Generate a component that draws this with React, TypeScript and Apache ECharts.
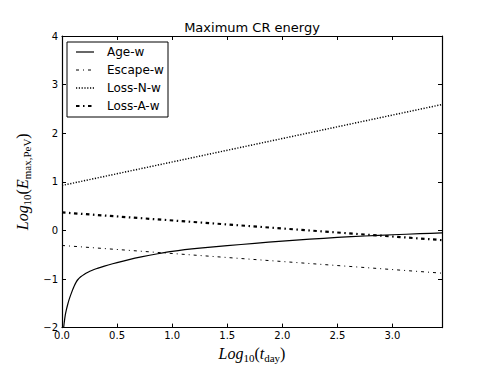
import React, { useEffect, useRef } from "react";
import * as echarts from "echarts";

const ageX = [0.015, 0.02, 0.03, 0.04, 0.05, 0.065, 0.085, 0.11, 0.13, 0.145, 0.17, 0.2, 0.24, 0.27, 0.31, 0.35, 0.42, 0.5, 0.6, 0.72, 0.87, 1.0, 1.25, 1.5, 1.75, 2.0, 2.25, 2.5, 2.75, 3.0, 3.25, 3.45];
const ageY = [-2.0, -1.9, -1.74, -1.63, -1.54, -1.42, -1.29, -1.15, -1.06, -1.01, -0.955, -0.905, -0.855, -0.825, -0.79, -0.76, -0.712, -0.662, -0.605, -0.545, -0.48, -0.43, -0.365, -0.315, -0.265, -0.22, -0.18, -0.145, -0.115, -0.09, -0.068, -0.05];
const escapeX = [0, 3.45];
const escapeY = [-0.31, -0.88];
const lossNX = [0, 3.45];
const lossNY = [0.925, 2.59];
const lossAX = [0, 3.45];
const lossAY = [0.37, -0.2];
const seriesNames = ["Age-w", "Escape-w", "Loss-N-w", "Loss-A-w"];
const titleText = "Maximum CR energy";

const pairs = (xs: number[], ys: number[]) => xs.map((x, i) => [x, ys[i]]);

const sans = "DejaVu Sans";
const serif = "Liberation Serif";

const lineStyles: { width: number; dash: number[] | null }[] = [
  { width: 1.2, dash: null },
  { width: 1, dash: [3, 4, 1, 4] },
  { width: 1.5, dash: [1.2, 1.6] },
  { width: 2.2, dash: [3.5, 3.5, 1.5, 3.5] },
];

export default function App() {
  const ref = useRef<HTMLDivElement>(null);
  useEffect(() => {
    const chart = echarts.init(ref.current!, null, { renderer: "svg" });
    const tickFmt = (v: number) => v.toFixed(1);
    const yFmt = (v: number) => (v < 0 ? "\u2212" + Math.abs(v) : String(v));
    const commonX = {
      type: "value",
      min: 0,
      max: 3.45,
      interval: 0.5,
      splitLine: { show: false },
      axisLine: { show: true, onZero: false, lineStyle: { color: "#000", width: 1.2 } },
      axisTick: { show: true, inside: true, length: 4, lineStyle: { color: "#000" } },
    };
    const commonY = {
      type: "value",
      min: -2,
      max: 4,
      interval: 1,
      splitLine: { show: false },
      axisLine: { show: true, onZero: false, lineStyle: { color: "#000", width: 1.2 } },
      axisTick: { show: true, inside: true, length: 4, lineStyle: { color: "#000" } },
    };
    const richName = {
      it: { fontFamily: serif, fontStyle: "italic", fontSize: 16, color: "#000" },
      rm: { fontFamily: serif, fontSize: 16, color: "#000" },
      sub: { fontFamily: serif, fontSize: 11, color: "#000", padding: [8, 0, 0, 0] },
    };

    const legendLeft = 67;
    const legendTop = 42;
    const legendItems: any[] = [
      {
        type: "rect",
        shape: { x: legendLeft, y: legendTop, width: 101, height: 75 },
        style: { fill: "#fff", stroke: "#000", lineWidth: 1 },
        z: 100,
      },
    ];
    seriesNames.forEach((nm, i) => {
      const y = 52 + 18 * i;
      const ls = lineStyles[i];
      legendItems.push({
        type: "line",
        shape: { x1: 76, y1: y, x2: 94, y2: y },
        style: { stroke: "#000", lineWidth: ls.width, lineDash: ls.dash || undefined },
        z: 101,
      });
      legendItems.push({
        type: "text",
        x: 107,
        y: y,
        style: {
          text: nm,
          fontFamily: sans,
          fontSize: 12,
          fill: "#000",
          verticalAlign: "middle",
          align: "left",
        },
        z: 101,
      });
    });

    const xs = [ageX, escapeX, lossNX, lossAX];
    const ys = [ageY, escapeY, lossNY, lossAY];

    chart.setOption({
      animation: false,
      title: {
        text: titleText,
        left: 252,
        top: 21,
        textAlign: "center",
        padding: 0,
        textStyle: { fontFamily: sans, fontSize: 13, fontWeight: "normal", color: "#000" },
      },
      grid: { left: 62, right: 49, top: 36, bottom: 37, containLabel: false },
      graphic: legendItems,
      xAxis: [
        {
          ...commonX,
          position: "bottom",
          axisLabel: {
            show: true,
            showMaxLabel: false,
            margin: 3,
            fontFamily: sans,
            fontSize: 10,
            color: "#000",
            formatter: tickFmt,
          },
          name: "{it|Log}{sub|10}{rm|(}{it|t}{sub|day}{rm|)}",
          nameLocation: "middle",
          nameGap: 14,
          nameTextStyle: { rich: richName },
        },
        { ...commonX, position: "top", axisLabel: { show: false } },
      ],
      yAxis: [
        {
          ...commonY,
          position: "left",
          axisLabel: {
            show: true,
            margin: 4,
            fontFamily: sans,
            fontSize: 10,
            color: "#000",
            formatter: yFmt,
          },
          name: "{it|Log}{sub|10}{rm|(}{it|E}{sub|max,PeV}{rm|)}",
          nameLocation: "middle",
          nameRotate: 90,
          nameGap: 8,
          nameTextStyle: { rich: richName },
        },
        { ...commonY, position: "right", axisLabel: { show: false } },
      ],
      series: seriesNames.map((nm, i) => ({
        name: nm,
        type: "line",
        data: pairs(xs[i], ys[i]),
        symbol: "none",
        smooth: i === 0 ? 0.2 : false,
        clip: true,
        lineStyle: {
          color: "#000",
          width: lineStyles[i].width,
          type: lineStyles[i].dash || "solid",
        },
      })),
    });
    return () => chart.dispose();
  }, []);
  return (
    <div
      ref={ref}
      style={{ position: "fixed", left: 0, top: 0, width: 491, height: 368, background: "#fff" }}
    />
  );
}
